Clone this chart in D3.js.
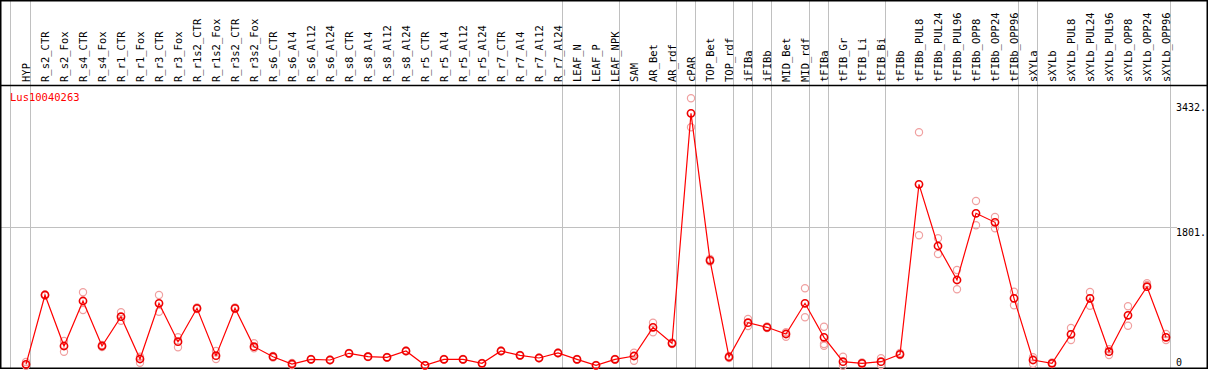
<!DOCTYPE html>
<html><head><meta charset="utf-8">
<script src="https://cdn.jsdelivr.net/npm/d3@7"></script>
<style>html,body{margin:0;padding:0;background:#fff;}svg{display:block;}</style>
</head><body>
<script>
const geneName = "Lus10040263";
const categories = ["HYP","R_s2_CTR","R_s2_Fox","R_s4_CTR","R_s4_Fox","R_r1_CTR","R_r1_Fox","R_r3_CTR","R_r3_Fox","R_r1s2_CTR","R_r1s2_Fox","R_r3s2_CTR","R_r3s2_Fox","R_s6_CTR","R_s6_Al4","R_s6_Al12","R_s6_Al24","R_s8_CTR","R_s8_Al4","R_s8_Al12","R_s8_Al24","R_r5_CTR","R_r5_Al4","R_r5_Al12","R_r5_Al24","R_r7_CTR","R_r7_Al4","R_r7_Al12","R_r7_Al24","LEAF_N","LEAF_P","LEAF_NPK","SAM","AR_Bet","AR_rdf","cPAR","TOP_Bet","TOP_rdf","iFIBa","iFIBb","MID_Bet","MID_rdf","tFIBa","tFIB_Gr","tFIB_Li","tFIB_Bi","tFIBb","tFIBb_PUL8","tFIBb_PUL24","tFIBb_PUL96","tFIBb_OPP8","tFIBb_OPP24","tFIBb_OPP96","sXYLa","sXYLb","sXYLb_PUL8","sXYLb_PUL24","sXYLb_PUL96","sXYLb_OPP8","sXYLb_OPP24","sXYLb_OPP96"];
const meanValues = [22,923,260,845,260,641,91,815,316,750,134,750,251,121,26,87,78,165,121,113,195,9,87,87,35,195,139,104,169,87,9,87,130,503,295,3285,1374,117,563,503,416,815,373,56,35,56,152,2362,1560,1118,1985,1868,880,78,35,412,880,186,659,1031,373];
const replicateValues = [[52,3],[930,917],[325,186],[958,728],[273,247],[698,589],[121,43],[923,706],[373,243],[761,741],[195,91],[761,741],[295,230],[130,111],[39,13],[91,83],[82,74],[170,160],[126,116],[118,108],[200,190],[12,6],[91,83],[92,82],[39,31],[200,190],[144,134],[108,100],[174,164],[92,82],[13,5],[93,81],[173,69],[563,438],[306,286],[3480,3103],[1391,1359],[130,104],[611,520],[514,494],[438,381],[1010,633],[511,286,264],[121,4],[46,26],[100,13],[169,143],[3038,1699],[1660,1456],[1248,997],[2145,1829],[1937,1790],[966,789],[113,30],[46,26],[494,338],[962,784],[217,143],[776,524],[1075,1053],[416,338]];
const groupEnds = ["HYP","R_r7_Al24","LEAF_NPK","AR_rdf","cPAR","TOP_rdf","iFIBa","iFIBb","MID_rdf","tFIBa","tFIB_Bi","tFIBb_OPP96","sXYLa","sXYLb_OPP96"];
const tickValues = [0, 1801, 3432];
const tickLabels = ["0", "1801.", "3432."];
const gridValues = [1801];

const W = 1209, H = 370;
const svg = d3.select("body").append("svg").attr("width", W).attr("height", H);
svg.append("rect").attr("width", W).attr("height", H).attr("fill", "#fff");

const x = d3.scalePoint().domain(categories).range([26, 1166]);
const y = d3.scaleLinear().domain([0, 3432]).range([366, 102]);
const font = "'DejaVu Sans Mono', monospace";

// vertical group separators
const sepX = [x(categories[0]) - 16].concat(groupEnds.map(g => x(g) + 4));
svg.selectAll("line.sep").data(sepX).enter().append("line")
  .attr("x1", d => Math.round(d) + 0.5).attr("x2", d => Math.round(d) + 0.5)
  .attr("y1", 0).attr("y2", 368).attr("stroke", "#c0c0c0").attr("stroke-width", 1);

// horizontal gridline
svg.selectAll("line.grid").data(gridValues).enter().append("line")
  .attr("x1", 1).attr("x2", 1177)
  .attr("y1", d => Math.round(y(d)) + 0.5).attr("y2", d => Math.round(y(d)) + 0.5)
  .attr("stroke", "#c0c0c0").attr("stroke-width", 1);

// frame
svg.append("rect").attr("x", 0.75).attr("y", 0.75).attr("width", 1206.5).attr("height", 367.5)
  .attr("fill", "none").attr("stroke", "#000").attr("stroke-width", 1.5);
svg.append("line").attr("x1", 0).attr("x2", 1208).attr("y1", 85.5).attr("y2", 85.5)
  .attr("stroke", "#000").attr("stroke-width", 1.5);

// category labels
svg.selectAll("text.cat").data(categories).enter().append("text")
  .attr("transform", d => `translate(${x(d) + 4},82) rotate(-90)`)
  .attr("font-family", font).attr("font-size", "10.5px").attr("fill", "#000")
  .text(d => d);

// gene name
svg.append("text").attr("x", 10).attr("y", 101).attr("font-family", font)
  .attr("font-size", "10.5px").attr("fill", "#ff0000").text(geneName);

// y tick labels
svg.selectAll("text.tick").data(tickValues).enter().append("text")
  .attr("x", 1176).attr("y", d => Math.min(y(d) + 9, 366))
  .attr("font-family", font).attr("font-size", "10px").attr("fill", "#000")
  .text((d, i) => tickLabels[i]);

// replicates
const reps = [];
replicateValues.forEach((arr, i) => arr.forEach(v => reps.push({c: categories[i], v})));
svg.selectAll("circle.rep").data(reps).enter().append("circle")
  .attr("cx", d => x(d.c)).attr("cy", d => y(d.v)).attr("r", 3.6)
  .attr("fill", "none").attr("stroke", "#f0a0a0").attr("stroke-width", 1.2);

// mean line
const pts = categories.map((c, i) => ({c, v: meanValues[i]}));
svg.append("path").datum(pts)
  .attr("d", d3.line().x(d => x(d.c)).y(d => y(d.v)))
  .attr("fill", "none").attr("stroke", "#ff0000").attr("stroke-width", 1.2);

// mean markers
svg.selectAll("circle.mean").data(pts).enter().append("circle")
  .attr("cx", d => x(d.c)).attr("cy", d => y(d.v)).attr("r", 3.6)
  .attr("fill", "none").attr("stroke", "#ee0000").attr("stroke-width", 1.6);
</script>
</body></html>
